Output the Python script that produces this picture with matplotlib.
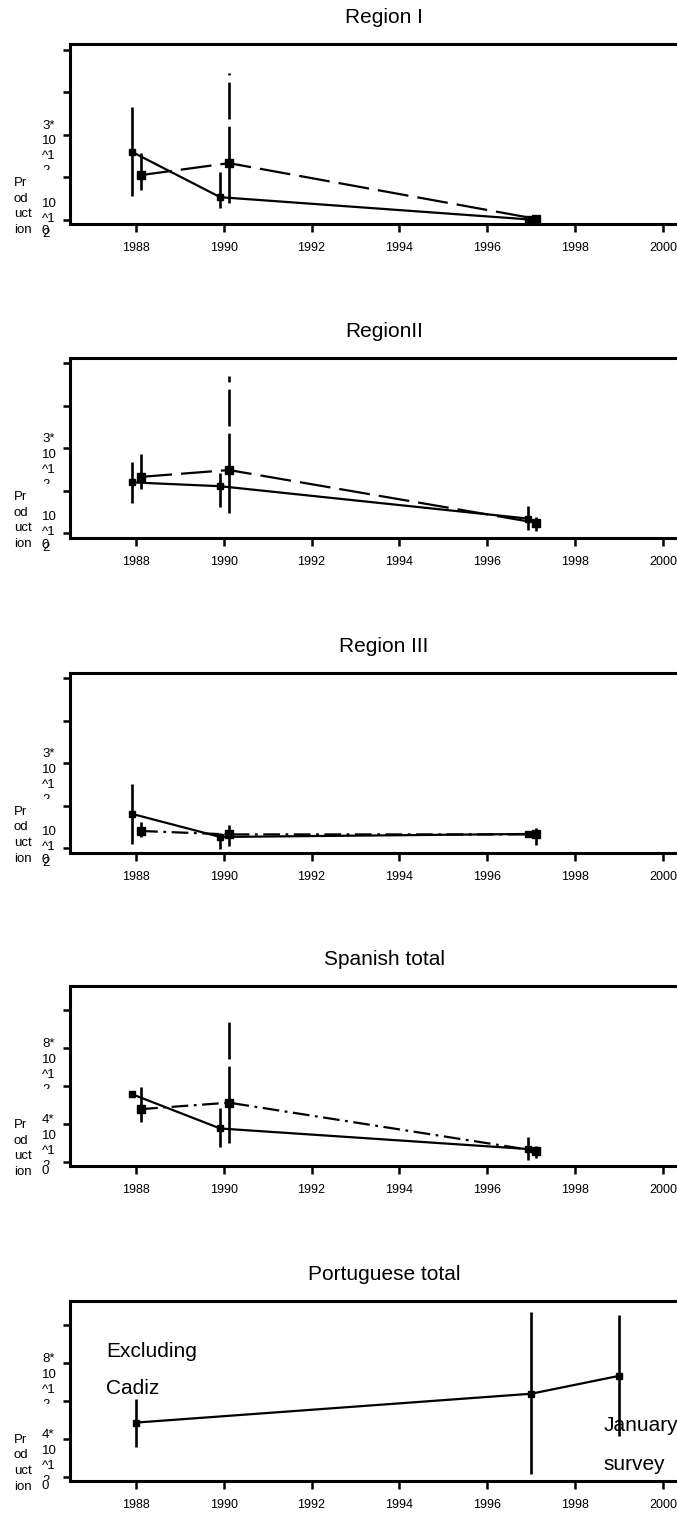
import matplotlib
matplotlib.use('Agg')
import matplotlib.pyplot as plt
from matplotlib.transforms import blended_transform_factory, Bbox, TransformedBbox

plt.rcParams['font.family'] = ['Liberation Sans', 'DejaVu Sans']
plt.rcParams['lines.scale_dashes'] = False

W, H, DPI = 677, 1523, 100

# ---------------- data (production, units of 10^12) ----------------
titles = ["Region I", "RegionII", "Region III", "Spanish total", "Portuguese total"]
survey_years = [1988, 1990, 1997]
portugal_years = [1988, 1997, 1999]
year_ticks = [1988, 1990, 1992, 1994, 1996, 1998, 2000]

# Region I
r1_a = [1.59, 0.53, 0.01]
r1_a_lo = [0.55, 0.27, 0.01]
r1_a_hi = [2.65, 1.12, 0.01]
r1_b = [1.05, 1.33, 0.02]
r1_b_lo = [0.71, 0.39, 0.02]
r1_b_hi = [1.56, 3.44, 0.02]

# Region II
r2_a = [1.20, 1.11, 0.35]
r2_a_lo = [0.72, 0.61, 0.09]
r2_a_hi = [1.67, 1.41, 0.64]
r2_b = [1.33, 1.49, 0.25]
r2_b_lo = [1.04, 0.47, 0.06]
r2_b_hi = [1.86, 3.70, 0.38]

# Region III
r3_a = [0.81, 0.27, 0.34]
r3_a_lo = [0.11, -0.02, 0.34]
r3_a_hi = [1.51, 0.37, 0.34]
r3_b = [0.41, 0.33, 0.33]
r3_b_lo = [0.27, 0.05, 0.09]
r3_b_hi = [0.62, 0.54, 0.47]

# Spanish total
sp_a = [3.58, 1.78, 0.70]
sp_a_lo = [3.58, 0.78, 0.14]
sp_a_hi = [3.58, 2.84, 1.32]
sp_b = [2.80, 3.14, 0.60]
sp_b_lo = [2.10, 1.02, 0.20]
sp_b_hi = [3.98, 7.78, 0.84]

# Portuguese total
pt_a = [2.88, 4.40, 5.34]
pt_a_lo = [1.60, 0.18, 2.18]
pt_a_hi = [4.14, 8.70, 8.56]

ylabel_text = "Pr\nod\nuct\nion"
small_labels = ["3*\n10\n^1\n2", "10\n^1\n2", "0"]
big_labels = ["8*\n10\n^1\n2", "4*\n10\n^1\n2", "0"]
annot_left = ["Excluding", "Cadiz"]
annot_right = ["January", "survey"]

# ---------------- styles ----------------
DASHED = (0, (22.3, 6.5))
DASHDOT = (0, (12, 4, 2, 4))
ERR_DASH = (0, (26.5, 5.2))

panels = [
    dict(title=titles[0], series=[(r1_a, r1_a_lo, r1_a_hi, 'solid'), (r1_b, r1_b_lo, r1_b_hi, DASHED)],
         years=survey_years, big=False),
    dict(title=titles[1], series=[(r2_a, r2_a_lo, r2_a_hi, 'solid'), (r2_b, r2_b_lo, r2_b_hi, DASHED)],
         years=survey_years, big=False),
    dict(title=titles[2], series=[(r3_a, r3_a_lo, r3_a_hi, 'solid'), (r3_b, r3_b_lo, r3_b_hi, DASHDOT)],
         years=survey_years, big=False),
    dict(title=titles[3], series=[(sp_a, sp_a_lo, sp_a_hi, 'solid'), (sp_b, sp_b_lo, sp_b_hi, DASHDOT)],
         years=survey_years, big=True),
    dict(title=titles[4], series=[(pt_a, pt_a_lo, pt_a_hi, 'solid')],
         years=portugal_years, big=True),
]

fig = plt.figure(figsize=(W / DPI, H / DPI), dpi=DPI)

tops_px = [44, 357.7, 672.7, 985.7, 1300.7]
AX_H = 180
AX_L, AX_R = 70, 698
LBL_FS = 9.5

for i, p in enumerate(panels):
    top = tops_px[i]
    ax = fig.add_axes([AX_L / W, 1 - (top + AX_H) / H, (AX_R - AX_L) / W, AX_H / H])
    ax.set_xlim(1986.5, 2000.8)
    if p['big']:
        ax.set_ylim(-0.18, 9.3)
        ax.set_yticks([0, 2, 4, 6, 8])
    else:
        ax.set_ylim(-0.1, 4.13)
        ax.set_yticks([0, 1, 2, 3, 4])
    ax.set_xticks(year_ticks)
    ax.set_xticklabels([str(y) for y in year_ticks])
    ax.tick_params(axis='x', length=6, width=1.8, direction='out', labelsize=9, pad=7)
    ax.tick_params(axis='y', length=5, width=1.8, direction='out', labelleft=False)
    for s in ['left', 'bottom', 'top']:
        ax.spines[s].set_linewidth(2.2)
    ax.spines['right'].set_visible(False)
    ax.set_title(p['title'], fontsize=15, pad=14.9)

    nser = len(p['series'])
    for k, (vals, lo, hi, ls) in enumerate(p['series']):
        if nser == 1:
            off = 0.0
        else:
            off = -0.08 if k == 0 else 0.12
        xs = [y + off for y in p['years']]
        ms = 4.4 if k == 0 else 5.4
        if k == 0:
            ax.vlines(xs, lo, hi, colors='k', linewidth=1.9, zorder=2)
        else:
            # bars drawn outward from the estimate; upper half dashed
            ax.vlines(xs, vals, hi, colors='k', linewidth=1.9, linestyles=ERR_DASH, zorder=2)
            ax.vlines(xs, vals, lo, colors='k', linewidth=1.9, zorder=2)
        ax.plot(xs, vals, color='k', lw=1.6, ls=ls, marker='s', ms=ms,
                mfc='k', mec='k', zorder=3)

    # y axis label & tick texts (wrapped as in the original)
    tr_ax = blended_transform_factory(fig.transFigure, ax.transAxes)
    ax.text(14 / W, 0.26, ylabel_text, transform=tr_ax, fontsize=LBL_FS,
            ha='left', va='top', linespacing=1.4)
    tr = blended_transform_factory(fig.transFigure, ax.transData)
    if p['big']:
        labs = big_labels
        tops = [6.52, 2.52]
        clips = [3.86, -0.16]
        zero_c = -0.46
    else:
        labs = small_labels
        tops = [2.35, 0.52]
        clips = [1.17, None]
        zero_c = -0.27
    for lab, ty, cy in zip(labs[:2], tops, clips):
        t = ax.text(42 / W, ty, lab, transform=tr, fontsize=LBL_FS, ha='left', va='top',
                    linespacing=1.35)
        if cy is not None:
            t.set_clip_box(TransformedBbox(Bbox([[0, cy], [1, 1000]]), tr))
            t.set_clip_on(True)
    ax.text(42 / W, zero_c, labs[2], transform=tr, fontsize=LBL_FS, ha='left', va='center')

    if i == 4:
        ax.text(1987.32, 6.35, annot_left[0], fontsize=15, va='baseline', ha='left')
        ax.text(1987.32, 4.38, annot_left[1], fontsize=15, va='baseline', ha='left')
        ax.text(1998.64, 2.44, annot_right[0], fontsize=15, va='baseline', ha='left')
        ax.text(1998.64, 0.38, annot_right[1], fontsize=15, va='baseline', ha='left')

fig.savefig('out.png', dpi=DPI)
